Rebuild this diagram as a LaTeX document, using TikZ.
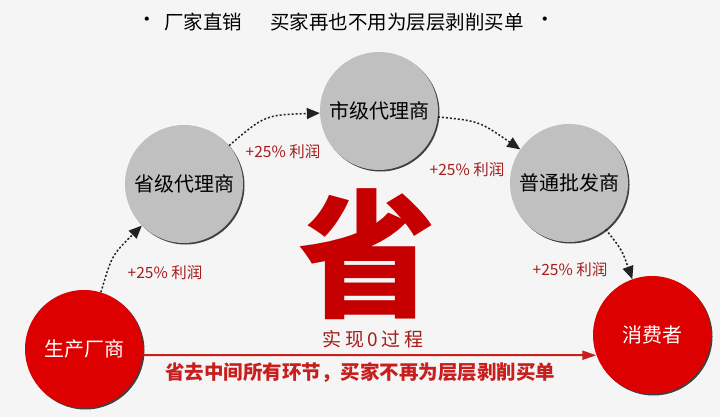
\documentclass[tikz,border=0pt]{standalone}
\usepackage{fontspec}
\newfontfamily\cjk{Noto Sans CJK SC}
\usetikzlibrary{arrows.meta,shadows,calc}
\definecolor{bgc}{HTML}{F5F5F5}
\definecolor{grayc}{HTML}{C0C0C0}
\definecolor{redc}{HTML}{DC0000}
\definecolor{labc}{HTML}{A51C1C}
\definecolor{linec}{HTML}{C81E1E}
\definecolor{darkc}{HTML}{222222}
\tikzset{
  ball/.style={circle, minimum size=118pt, inner sep=0pt, font=\cjk\fontsize{20}{20}\selectfont,
    drop shadow={shadow xshift=1.5pt, shadow yshift=-1.5pt, fill=black!75, opacity=1}},
  grayball/.style={ball, fill=grayc, text=black},
  redball/.style={ball, fill=redc, text=white},
  flow/.style={dash pattern=on 2pt off 2pt, line width=1.5pt, draw=darkc, -{Triangle[length=13pt,width=11pt]}},
  profit/.style={text=labc, font=\cjk\fontsize{15.5}{15.5}\selectfont, inner sep=0pt},
  titletext/.style={text=black, font=\cjk\fontsize{19.5}{19.5}\selectfont, inner sep=0pt}
}
\begin{document}
\begin{tikzpicture}[x=1pt,y=-1pt]
\fill[bgc] (0,0) rectangle (720,417);
\useasboundingbox (0,0) rectangle (720,417);

% title
\node[titletext] (b1) at (147,22) {•};
\node[titletext] (t1) at (203,22) {厂家直销};
\node[titletext] (t2) at (397,22) {买家再也不用为层层剥削买单};
\node[titletext] (b2) at (545,22) {•};

% big character
\node[text=redc!90!black, font=\cjk\bfseries\fontsize{138}{138}\selectfont, inner sep=0pt] (sheng) at (367,254) {省};
\node[text=labc, font=\cjk\fontsize{19}{19}\selectfont, inner sep=0pt] (zero) at (373,339)
  {实\kern3.5pt 现\kern3.5pt 0\kern3.5pt 过\kern3.5pt 程};

% circles
\node[redball] (sc) at (84,349) {生产厂商};
\node[grayball] (sj) at (184,184) {省级代理商};
\node[grayball] (shi) at (379,111) {市级代理商};
\node[grayball] (pt) at (569,183) {普通批发商};
\node[redball] (xf) at (652,335) {消费者};

% flows
\draw[flow] (sc) .. controls (112,255) .. (sj);
\draw[flow] (sj) .. controls (265,115) .. (shi);
\draw[flow] (shi) .. controls (479,121) .. (pt);
\draw[flow] (pt) .. controls (622,250) .. (xf);

% profit labels
\node[profit] (p1) at (165,273) {+25\% 利润};
\node[profit] (p2) at (283,152) {+25\% 利润};
\node[profit] (p3) at (467,170) {+25\% 利润};
\node[profit] (p4) at (570,270) {+25\% 利润};

% direct line
\draw[linec, line width=2pt, -{Triangle[length=14pt,width=9pt]}] (sc.-6) -- (xf.200);
\node[text=linec, font=\cjk\bfseries\fontsize{19.5}{19.5}\selectfont, inner sep=0pt] (bottom) at (360,373)
  {省去中间所有环节，买家不再为层层剥削买单};
\end{tikzpicture}
\end{document}
